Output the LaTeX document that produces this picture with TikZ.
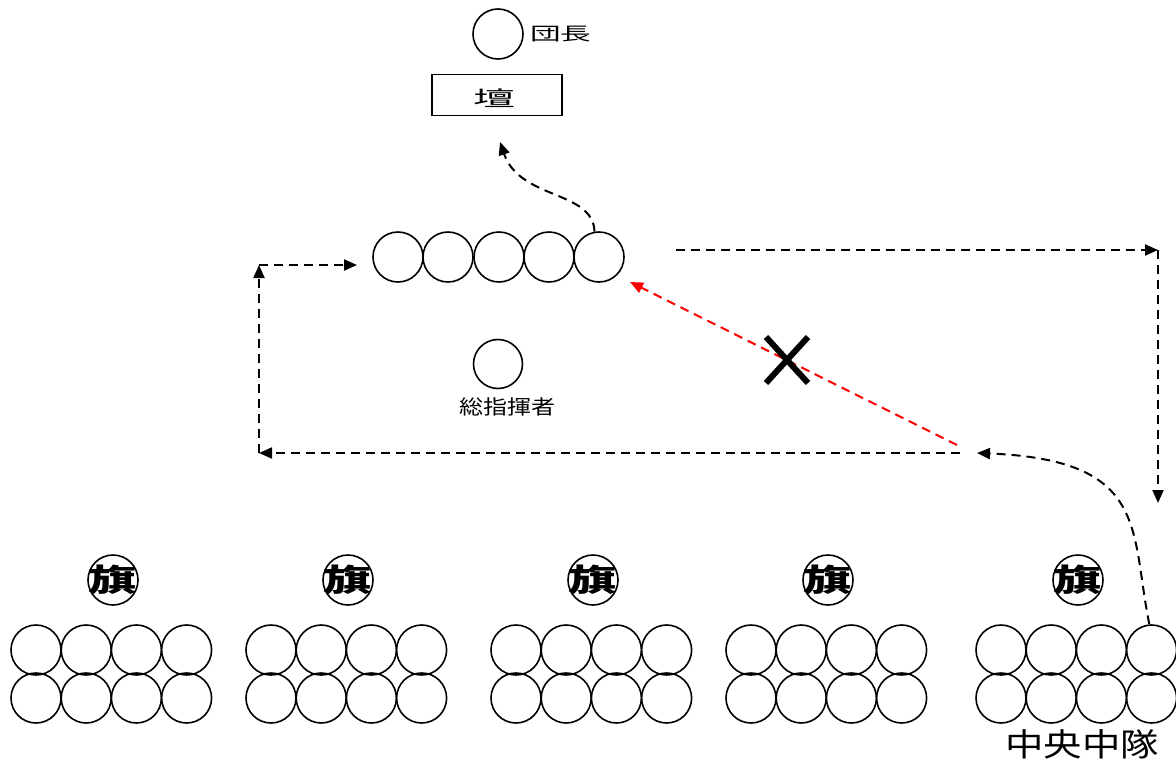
\documentclass[tikz,border=0pt]{standalone}
\usepackage{fontspec}
\setmainfont{Noto Sans CJK JP}
\usetikzlibrary{arrows.meta}

\tikzset{
  man/.style={draw,circle,line width=1.6pt,minimum size=50pt,inner sep=0pt},
  flagtext/.style={inner sep=0pt,font=\fontsize{31}{31}\selectfont\bfseries},
  move/.style={line width=2pt,dash pattern=on 9pt off 6pt,-{Triangle[length=13pt,width=11pt]}},
}

\begin{document}
\begin{tikzpicture}[x=1pt,y=-1pt]
			\useasboundingbox (0,0) rectangle (1176,763);
			
			% stage
			\node[man] (chief)at(498,34) {};
			\node[anchor=west,inner sep=0pt,font=\fontsize{18}{18}\selectfont] (chieflabel)at(530,34) {\scalebox{1.7}[1]{団長}};
			\node[draw,line width=1.6pt,minimum width=130pt,minimum height=41pt] (dan)at(497,95) {};
			\node[font=\fontsize{21}{21}\selectfont] (danlabel)at(494,98) {\scalebox{2}[1]{壇}};
			
			% front row
			\node[man] (r1)at(398,257) {};
			\node[man] (r2)at(448,257) {};
			\node[man] (r3)at(499,257) {};
			\node[man] (r4)at(549,257) {};
			\node[man] (r5)at(599,257) {};
			
			% conductor
			\node[man,minimum size=49pt] (cond)at(498,364) {};
			\node[font=\fontsize{20}{20}\selectfont] (condlabel)at(507,407) {\scalebox{1.2}[1]{総指揮者}};
			
			% companies
			\foreach \x/\n in {36/1,271/2,516/3,751/4,1001/5}{
				\node[man] (f\n)at(\x+77,580) {};
				\node[flagtext] (t\n)at(\x+77,580) {\scalebox{1.55}[1]{旗}};
				\foreach \i in {0,1,2,3}{
					\node[man] (c\n a\i)at(\x+50.2*\i,650) {};
					\node[man] (c\n b\i)at(\x+50.2*\i,698) {};
				}
			}
			\node[font=\fontsize{32}{32}\selectfont] (central)at(1082,744) {\scalebox{1.2}[1]{中央中隊}};
			
			% route
			\coordinate (p1)at(500,142);
			\coordinate (p2)at(676,250);
			\coordinate (p3)at(1158,250);
			\coordinate (p4)at(1158,503);
			\coordinate (p5)at(977,453);
			\coordinate (p6)at(960,453);
			\coordinate (p7)at(259,453);
			\coordinate (p8)at(259,265);
			\coordinate (p9)at(357,265);
			\coordinate (p10)at(957,445);
			\coordinate (p11)at(630,282);
			
			\draw[move] (r5.100) .. controls (593,190) and (520,200) .. (p1);
			\draw[move] (p2) -- (p3);
			\draw[move] (p3) -- (p4);
			\draw[move] (c5a3.95) .. controls (1130,530) and (1150,460) .. (p5);
			\draw[move] (p6) -- (p7);
			\draw[move] (p7) -- (p8);
			\draw[move] (p8) -- (p9);
			\draw[move,red] (p10) -- (p11);
			
			% not allowed
			\draw[line width=6pt] (766,337) -- (808,383);
			\draw[line width=6pt] (808,337) -- (766,383);
		\end{tikzpicture}
\end{document}
